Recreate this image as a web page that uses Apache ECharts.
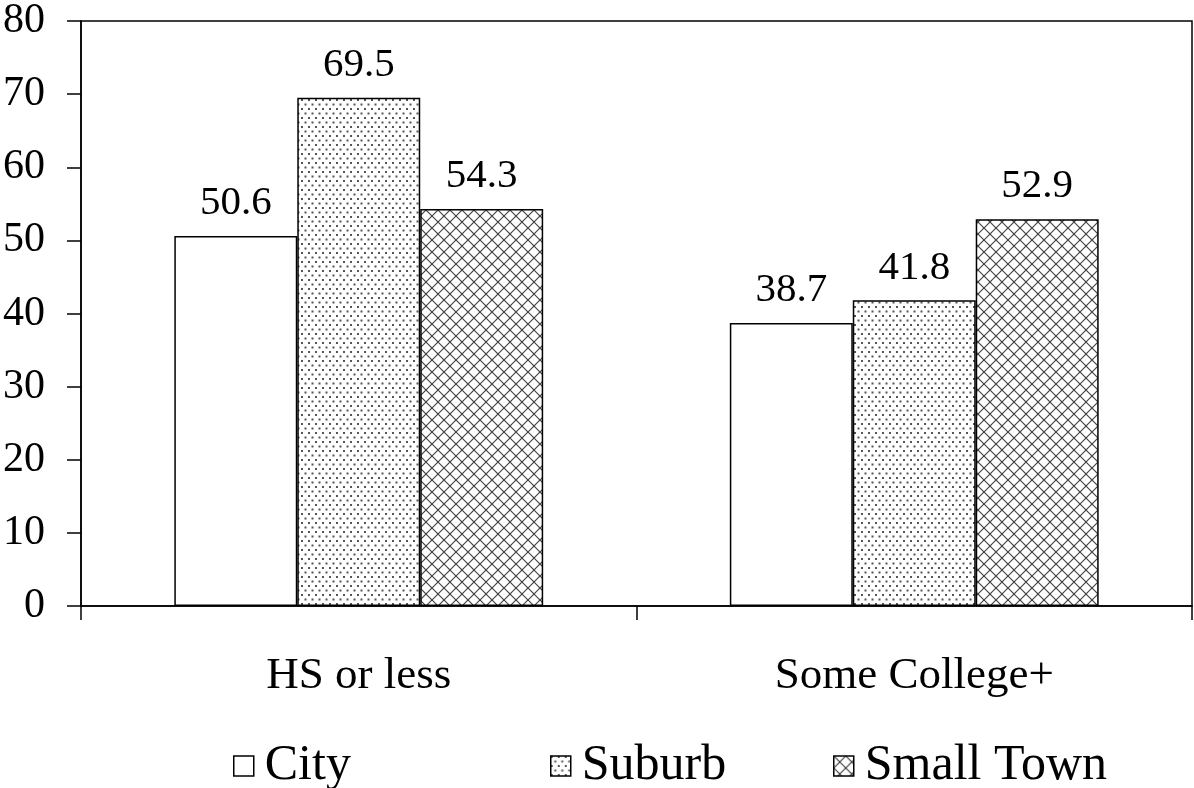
<!DOCTYPE html>
<html>
<head>
<meta charset="utf-8">
<script src="https://cdn.jsdelivr.net/npm/echarts@6/dist/echarts.min.js"></script>
<style>
html,body{margin:0;padding:0;background:#fff;}
#chart{width:1194px;height:788px;}
</style>
</head>
<body>
<div id="chart"></div>
<script>
var categories = ['HS or less', 'Some College+'];
var seriesNames = ['City', 'Suburb', 'Small Town'];
var cityValues = [50.6, 38.7];
var suburbValues = [69.5, 41.8];
var smallTownValues = [54.3, 52.9];
var yTicks = [0, 10, 20, 30, 40, 50, 60, 70, 80];

function dotPattern() {
  var c = document.createElement('canvas');
  c.width = 7; c.height = 9;
  var g = c.getContext('2d');
  g.fillStyle = '#fff'; g.fillRect(0, 0, 7, 9);
  g.fillStyle = '#555';
  g.fillRect(0, 0, 2, 2);
  g.fillRect(3.5, 4.5, 2, 2);
  return c;
}
function crossPattern() {
  var s = 12;
  var c = document.createElement('canvas');
  c.width = s; c.height = s;
  var g = c.getContext('2d');
  g.fillStyle = '#fff'; g.fillRect(0, 0, s, s);
  g.strokeStyle = '#444'; g.lineWidth = 1.2;
  for (var k = -1; k <= 1; k++) {
    g.beginPath(); g.moveTo(k * s, 0); g.lineTo(k * s + s, s); g.stroke();
    g.beginPath(); g.moveTo(k * s + s, 0); g.lineTo(k * s, s); g.stroke();
  }
  return c;
}

var font = 'Liberation Serif';
var fills = ['#ffffff', {image: dotPattern(), repeat: 'repeat'}, {image: crossPattern(), repeat: 'repeat'}];
var datasets = [cityValues, suburbValues, smallTownValues];
var legendLefts = [228, 545, 828];

var series = seriesNames.map(function (n, i) {
  return {
    name: n,
    type: 'bar',
    data: datasets[i],
    barGap: '0%',
    barCategoryGap: '33.6%',
    itemStyle: {color: fills[i], borderColor: '#000', borderWidth: 1.5},
    label: {
      show: true, position: 'top', distance: 12,
      fontFamily: font, fontSize: 41, color: '#000',
      formatter: function (p) { return p.value.toFixed(1); }
    },
    emphasis: {disabled: true}
  };
});

var chart = echarts.init(document.getElementById('chart'));
chart.setOption({
  animation: false,
  backgroundColor: '#fff',
  grid: {left: 81, right: 2, top: 14, bottom: 182, show: true, borderColor: '#000', borderWidth: 1.5, backgroundColor: 'transparent'},
  legend: seriesNames.map(function (n, i) {
    return {
      data: [{name: n, icon: 'rect'}], left: legendLefts[i], top: 736,
      itemWidth: 20, itemHeight: 20,
      itemStyle: {borderColor: '#000', borderWidth: 1.5},
      textStyle: {fontFamily: font, fontSize: 50, color: '#000', padding: [0, 0, 0, 6]},
      selectedMode: false
    };
  }),
  xAxis: {
    type: 'category', data: categories,
    axisLine: {lineStyle: {color: '#000', width: 1.5}},
    axisTick: {show: true, length: 14, lineStyle: {color: '#000', width: 1.5}},
    axisLabel: {fontFamily: font, fontSize: 45, color: '#000', margin: 48}
  },
  yAxis: {
    type: 'value', min: yTicks[0], max: yTicks[yTicks.length - 1], interval: 10,
    axisLine: {show: true, lineStyle: {color: '#000', width: 1.5}},
    axisTick: {show: true, length: 14, lineStyle: {color: '#000', width: 1.5}},
    splitLine: {show: false},
    axisLabel: {fontFamily: font, fontSize: 42, color: '#000', margin: 36}
  },
  series: series
});
</script>
</body>
</html>
